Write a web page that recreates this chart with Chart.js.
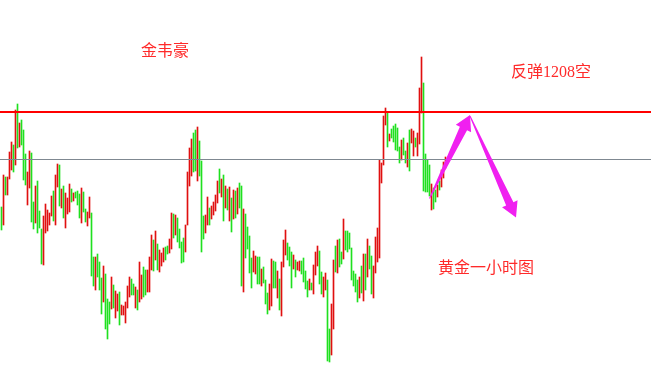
<!DOCTYPE html>
<html>
<head>
<meta charset="utf-8">
<script src="https://cdn.jsdelivr.net/npm/chart.js@4/dist/chart.umd.min.js"></script>
<style>
  html, body { margin: 0; padding: 0; background: #ffffff; }
  #wrap { width: 651px; height: 372px; }
</style>
</head>
<body>
<div id="wrap"><canvas id="c" width="651" height="372"></canvas></div>
<script>
// Gold, 1-hour bars: high / low of each hour, oldest first
const highs = [
  1198.5,1201.7,1201.5,1201.5,1204.0,1205.0,1204.7,1208.2,1208.8,1206.9,
  1207.2,1206.2,1203.8,1202.0,1204.1,1203.9,1199.0,1200.6,1201.1,1198.1,
  1196.3,1197.6,1198.8,1198.2,1197.9,1199.6,1200.1,1201.7,1202.8,1202.7,
  1200.3,1200.6,1199.9,1199.4,1200.8,1200.3,1199.9,1200.0,1200.1,1199.8,
  1200.4,1200.0,1198.3,1198.0,1199.5,1197.9,1193.5,1193.5,1193.8,1193.0,
  1191.4,1192.6,1191.8,1189.3,1189.0,1191.5,1190.7,1190.1,1189.8,1190.0,
  1188.7,1188.6,1189.0,1190.6,1191.5,1191.3,1190.8,1190.5,1190.2,1193.0,
  1191.7,1192.5,1192.2,1192.2,1193.5,1195.7,1195.2,1196.1,1194.8,1194.2,
  1193.9,1194.4,1194.5,1194.6,1195.3,1197.9,1197.8,1197.7,1197.4,1196.3,
  1195.0,1195.4,1196.7,1202.0,1204.4,1205.3,1205.9,1206.2,1206.5,1205.1,
  1203.1,1197.6,1197.7,1199.5,1198.4,1198.6,1199.0,1199.7,1201.1,1202.3,
  1201.3,1201.7,1200.6,1200.3,1200.5,1199.4,1200.2,1200.1,1200.4,1200.9,
  1200.6,1198.3,1197.8,1196.5,1195.6,1193.4,1194.1,1193.6,1193.5,1193.5,
  1192.3,1192.5,1191.2,1189.9,1190.8,1193.3,1193.1,1193.0,1192.1,1191.3,
  1193.0,1195.2,1196.2,1194.9,1194.5,1194.0,1193.7,1193.2,1193.0,1193.1,
  1193.1,1193.4,1192.1,1191.1,1191.3,1190.9,1192.7,1194.0,1194.6,1194.1,
  1192.0,1191.5,1191.9,1191.2,1186.3,1188.8,1193.2,1194.6,1195.2,1195.3,
  1194.0,1197.3,1196.1,1196.1,1195.9,1194.4,1192.1,1191.8,1191.2,1191.5,
  1192.6,1193.8,1193.8,1195.3,1194.6,1193.6,1192.6,1195.5,1196.4,1203.2,
  1202.9,1207.6,1208.4,1208.0,1205.8,1206.3,1206.6,1206.8,1206.4,1204.5,
  1205.2,1205.4,1204.1,1204.9,1206.2,1206.3,1206.1,1205.4,1205.9,1210.4,
  1213.5,1210.9,1203.8,1203.2,1202.7,1200.8,1200.4,1200.2,1200.7,1201.1,
  1202.2,1203.0,1203.5
];
const lows = [
  1196.2,1196.7,1199.7,1199.7,1201.3,1202.2,1202.0,1202.7,1204.4,1204.5,
  1204.7,1201.2,1200.7,1198.7,1200.4,1197.0,1196.3,1196.9,1195.9,1196.4,
  1192.8,1192.7,1195.9,1196.1,1196.7,1197.6,1197.1,1196.7,1200.5,1198.6,
  1198.4,1197.4,1196.4,1197.8,1198.0,1199.0,1199.1,1199.4,1198.7,1197.4,
  1196.9,1198.0,1197.0,1196.6,1197.4,1191.6,1190.6,1190.2,1191.5,1190.2,
  1187.8,1189.0,1186.3,1185.3,1186.8,1188.3,1188.4,1187.4,1188.1,1186.7,
  1187.7,1187.7,1186.9,1188.4,1189.5,1189.7,1189.7,1188.4,1188.2,1189.0,
  1189.3,1189.5,1189.7,1190.0,1190.0,1192.2,1192.1,1193.2,1192.2,1192.0,
  1192.6,1193.0,1193.2,1193.8,1193.9,1194.3,1195.4,1195.7,1195.0,1194.4,
  1192.9,1193.0,1194.0,1196.7,1200.6,1201.6,1202.0,1202.1,1201.1,1201.6,
  1194.0,1195.3,1195.9,1196.7,1196.7,1197.3,1197.7,1198.1,1198.9,1199.9,
  1199.5,1197.1,1198.4,1198.2,1197.1,1196.0,1197.3,1197.4,1197.8,1198.4,
  1190.6,1190.0,1193.4,1194.3,1191.9,1190.4,1192.0,1191.8,1190.8,1190.8,
  1190.6,1190.9,1188.8,1187.8,1188.2,1188.6,1190.4,1190.4,1189.4,1188.2,
  1187.6,1192.5,1193.7,1193.2,1192.6,1190.4,1192.3,1191.5,1192.2,1192.1,
  1191.8,1191.0,1190.3,1189.5,1190.2,1190.2,1189.8,1191.7,1192.6,1190.8,
  1189.8,1189.5,1190.2,1183.1,1183.0,1183.7,1186.3,1192.0,1191.9,1192.5,
  1192.8,1193.3,1194.2,1194.0,1194.3,1191.2,1190.6,1190.0,1189.0,1189.4,
  1189.9,1189.1,1190.2,1191.5,1192.3,1189.8,1189.4,1191.9,1193.0,1193.4,
  1200.9,1202.7,1206.7,1204.5,1205.1,1205.4,1205.0,1204.2,1204.1,1202.9,
  1203.2,1203.7,1202.9,1202.5,1202.1,1204.9,1203.6,1204.5,1203.6,1204.8,
  1207.9,1200.1,1200.0,1200.0,1199.6,1198.2,1198.3,1199.0,1199.5,1200.2,
  1200.5,1201.4,1202.4
];
// 1 = bullish hour (close above open), -1 = bearish hour
const moves = [
   1,-1, 1,-1,-1,-1, 1,-1, 1,-1,   1, 1, 1,-1,-1, 1, 1,-1, 1, 1,
   1,-1,-1,-1,-1,-1, 1,-1,-1, 1,  -1, 1,-1,-1,-1, 1,-1, 1, 1, 1,
  -1, 1, 1,-1,-1, 1, 1,-1, 1, 1,   1,-1, 1, 1, 1,-1, 1,-1,-1, 1,
  -1,-1,-1,-1,-1, 1, 1,-1, 1,-1,  -1, 1, 1,-1,-1,-1, 1,-1, 1,-1,
  -1,-1, 1, 1,-1,-1, 1,-1, 1, 1,   1, 1,-1,-1,-1,-1, 1, 1,-1, 1,
   1, 1,-1,-1, 1,-1,-1,-1,-1, 1,  -1, 1,-1, 1,-1, 1,-1, 1,-1, 1,
   1,-1, 1, 1, 1, 1,-1,-1, 1, 1,  -1, 1, 1, 1,-1,-1, 1, 1,-1, 1,
  -1,-1,-1, 1, 1, 1,-1, 1,-1,-1,   1, 1, 1, 1,-1, 1,-1,-1,-1, 1,
   1,-1,-1, 1, 1,-1,-1, 1,-1, 1,   1,-1, 1, 1, 1, 1, 1, 1, 1,-1,
   1,-1, 1,-1, 1, 1,-1,-1,-1,-1,  -1,-1,-1, 1,-1, 1, 1, 1, 1, 1,
  -1, 1, 1,-1, 1,-1,-1, 1,-1,-1,  -1, 1, 1, 1, 1,-1, 1, 1,-1, 1,
  -1,-1,-1
];

// Horizontal reference levels
const resistanceLevel = 1208.0;   // red line
const currentLevel = 1203.25;     // grey line

// Annotations, anchored in (bar index, price)
const notes = [
  { text: '金韦豪',        x: 69.75,  y: 1214.0 },
  { text: '反弹1208空',     x: 254.75, y: 1211.9 },
  { text: '黄金一小时图',   x: 218.25, y: 1192.35 }
];
// Projected path: rebound into the red line, then a drop
const arrows = [
  { from: [214.0, 1199.35], to: [234.25, 1207.7] },
  { from: [234.25, 1207.6], to: [257.25, 1197.45] }
];

const UP = '#1fe01f', DOWN = '#e01010', ARROW = '#f020f0', TEXT = '#ff2a2a';

const overlay = {
  id: 'overlay',
  afterDatasetsDraw(chart) {
    const { ctx, chartArea: a, scales: { x, y } } = chart;
    ctx.save();
    // levels
    ctx.fillStyle = '#ff0000';
    const ry = y.getPixelForValue(resistanceLevel);
    ctx.fillRect(a.left, Math.round(ry) - 1, a.right - a.left, 2);
    ctx.fillStyle = '#7f8891';
    const gy = y.getPixelForValue(currentLevel);
    ctx.fillRect(a.left, Math.floor(gy), a.right - a.left, 1);

    // tapered arrows
    ctx.fillStyle = ARROW;
    arrows.forEach(ar => {
      const x0 = x.getPixelForValue(ar.from[0]), y0 = y.getPixelForValue(ar.from[1]);
      const x1 = x.getPixelForValue(ar.to[0]), y1 = y.getPixelForValue(ar.to[1]);
      const len = Math.hypot(x1 - x0, y1 - y0);
      const ux = (x1 - x0) / len, uy = (y1 - y0) / len;
      const nx = -uy, ny = ux;
      const headLen = 15, tailW = 1, shaftW = 8, headW = 17;
      const bx = x1 - ux * headLen, by = y1 - uy * headLen;
      ctx.beginPath();
      ctx.moveTo(x0 + nx * tailW / 2, y0 + ny * tailW / 2);
      ctx.lineTo(bx + nx * shaftW / 2, by + ny * shaftW / 2);
      ctx.lineTo(bx + nx * headW / 2, by + ny * headW / 2);
      ctx.lineTo(x1, y1);
      ctx.lineTo(bx - nx * headW / 2, by - ny * headW / 2);
      ctx.lineTo(bx - nx * shaftW / 2, by - ny * shaftW / 2);
      ctx.lineTo(x0 - nx * tailW / 2, y0 - ny * tailW / 2);
      ctx.closePath();
      ctx.fill();
    });

    // labels: serif digits, CJK glyphs fall back to Noto Sans CJK
    ctx.fillStyle = TEXT;
    ctx.font = '16px "Liberation Serif", "Noto Sans CJK SC", serif';
    ctx.textAlign = 'left';
    ctx.textBaseline = 'middle';
    notes.forEach(n => {
      ctx.fillText(n.text, x.getPixelForValue(n.x), y.getPixelForValue(n.y));
    });
    ctx.restore();
  }
};

new Chart(document.getElementById('c'), {
  type: 'bar',
  data: {
    datasets: [{
      data: highs.map((h, i) => ({ x: i, y: [lows[i], h] })),
      backgroundColor: moves.map(m => m > 0 ? UP : DOWN),
      borderWidth: 0,
      barThickness: 1,
      grouped: false
    }]
  },
  options: {
    responsive: false,
    animation: false,
    events: [],
    layout: { padding: 0 },
    scales: {
      x: { type: 'linear', min: -0.75, max: 324.75, display: false, offset: false },
      y: { min: 1182.0, max: 1219.2, display: false }
    },
    plugins: { legend: { display: false }, tooltip: { enabled: false } }
  },
  plugins: [overlay]
});
</script>
</body>
</html>
